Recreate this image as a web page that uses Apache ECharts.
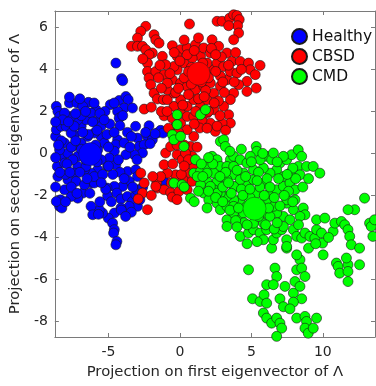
<!DOCTYPE html>
<html>
<head>
<meta charset="utf-8">
<script src="https://cdn.jsdelivr.net/npm/echarts@6/dist/echarts.min.js"></script>
<style>
  html, body { margin: 0; padding: 0; background: #fff; }
  #chart { width: 376px; height: 386px; }
</style>
</head>
<body>
<div id="chart"></div>
<script>
const categories = ["Healthy", "CBSD", "CMD"];
const colors = ["#0000ff", "#ff0000", "#00ff00"];

// Healthy samples [x, y]
const healthy = [
  [-8.65, 2.24], [-8.54, 2.0], [-8.42, 1.76], [-7.73, 2.4], [-7.73, 2.68], [-7.2, 2.4],
  [-6.4, 2.43], [-6.8, 2.24], [-5.87, 2.08], [-5.52, 1.84], [-4.87, 2.32], [-4.25, 2.52],
  [-3.78, 2.71], [-3.62, 2.56], [-3.9, 2.16], [-3.32, 2.16], [-4.36, 2.0], [-5.24, 2.0],
  [-4.25, 1.68], [-4.2, 1.32], [-3.1, 1.29], [-3.67, 1.0], [-2.97, 0.73], [-2.16, 1.32],
  [-2.27, 0.81], [-1.93, 0.65], [-1.58, 0.97], [-1.35, 1.1], [-1.18, 0.97], [-1.74, 0.94],
  [-2.85, 0.33], [-2.5, 0.41], [-2.09, 0.46], [-2.62, 0.02], [-3.2, -0.06], [-3.78, -0.06],
  [-4.36, 0.65], [-4.48, 0.41], [-4.59, 0.1], [-4.94, -0.22], [-5.06, -0.62], [-4.48, -0.54],
  [-3.67, -0.86], [-3.09, -0.78], [-2.97, -1.1], [-3.55, -1.33], [-4.01, -1.57], [-4.59, -1.57],
  [-5.1, -1.65], [-5.06, -2.02], [-4.41, -1.89], [-4.13, -2.17], [-3.67, -2.05], [-3.32, -2.29],
  [-2.97, -2.52], [-3.09, -1.97], [-3.02, -1.73], [-3.55, -2.52], [-4.13, -2.6], [-4.59, -2.84],
  [-5.01, -3.08], [-5.41, -2.84], [-5.64, -2.68], [-6.22, -2.52], [-6.1, -2.92], [-4.71, -3.32],
  [-4.59, -3.63], [-4.64, -3.79], [-4.41, -4.19], [-4.48, -4.35], [-6.22, -1.41], [-6.8, -1.89],
  [-7.15, -2.13], [-7.61, -2.05], [-8.07, -1.73], [-8.35, -2.21], [-8.42, -2.52], [-8.26, -2.6],
  [-8.65, -2.29], [-8.54, -1.1], [-8.58, -0.62], [-8.7, 0.81], [-8.65, 1.13], [-8.3, 1.29],
  [-8.07, 0.49], [-8.19, -0.14], [-7.84, 0.02], [-7.49, 0.33], [-7.38, 0.89], [-6.91, 1.29],
  [-6.57, 1.6], [-6.22, 1.92], [-5.87, 1.52], [-5.52, 1.29], [-5.52, 0.81], [-5.29, 0.49],
  [-5.75, 0.17], [-5.52, -0.3], [-5.75, -0.78], [-6.22, -0.94], [-6.68, -0.78], [-7.15, -0.62],
  [-7.38, -0.94], [-7.84, -1.25], [-7.26, -1.33], [-6.68, -1.49], [-6.57, -0.62], [-7.15, -0.14],
  [-6.91, 0.49], [-6.45, 0.81], [-5.99, 0.97], [-7.15, 1.6], [-7.61, 1.76], [-8.07, 1.92],
  [-7.96, 1.29], [-7.61, 0.97], [-8.42, 0.17], [-8.07, -0.46], [-7.49, -0.3], [-5.99, -1.41],
  [-1.11, -1.33], [-4.48, 4.3], [-4.08, 3.56], [-4.0, 3.46],
  [-6.9, 0.2], [-6.6, -0.3], [-5.9, 0.4], [-5.8, -0.4], [-7.0, -0.9], [-6.4, 0.9], [-7.6, 0.3],
  [-7.9, -0.5], [-6.0, -1.1], [-5.4, -1.0], [-5.1, 0.9], [-4.9, 1.4], [-5.6, 1.9], [-6.9, 1.8],
  [-7.4, 1.3], [-8.3, 0.6], [-8.0, -1.0], [-7.6, -1.6], [-6.3, -1.9], [-5.2, -1.7], [-4.8, -2.3],
  [-5.6, -2.3], [-4.2, -0.9], [-3.9, 0.5], [-3.5, 0.3], [-4.1, -2.7], [-3.4, -2.8], [-2.8, -2.2],
  [-3.8, -3.0], [-5.7, -2.9],
  [-8.2, 1.6], [-7.8, 1.5], [-7.3, 1.9], [-6.6, 2.0], [-6.1, 1.5], [-5.3, 1.6], [-4.6, 1.0],
  [-5.0, 0.3], [-4.3, -0.3], [-4.7, -1.0], [-5.5, -1.4], [-6.5, -1.2], [-7.2, -1.9], [-8.0, -2.3],
  [-7.7, -0.9], [-8.4, -0.9], [-8.5, 0.4], [-7.3, 0.6], [-6.8, 1.0], [-5.8, 1.1], [-5.0, -0.6],
  [-3.9, -1.2], [-3.3, -1.6], [-2.6, -1.6], [-3.0, -0.3], [-3.4, 0.8], [-2.4, 1.0], [-4.0, 1.8],
  [-4.6, 2.4], [-6.0, 2.4], [-7.0, 2.6], [-8.7, 1.5], [-8.7, -0.2], [-8.7, -1.6]
];

// CBSD samples [x, y]
const cbsd = [
  [1.79, 6.79], [0.67, 6.16], [2.6, 6.29], [2.95, 6.29], [3.48, 6.44], [3.76, 6.6], [3.99, 6.56],
  [4.15, 6.37], [4.04, 6.08], [4.11, 5.73], [3.41, 6.08], [4.62, 6.79], [3.76, 5.41],
  [-2.39, 6.05], [-2.74, 5.81], [-2.97, 5.49], [-3.39, 5.1], [-2.97, 5.1], [-2.62, 5.1],
  [-2.39, 4.94], [-1.81, 5.65], [-1.69, 5.41], [-1.46, 5.25], [-1.93, 4.78], [-2.16, 4.7],
  [-2.27, 4.3], [-2.27, 3.9], [-2.16, 3.59], [-2.04, 3.27], [-1.23, 4.62], [-1.69, 3.9],
  [-1.11, 3.75], [-1.81, 2.87], [-1.58, 2.59], [-1.16, 2.56], [-1.11, 1.79], [-2.5, 2.11],
  [-0.53, 5.13], [0.05, 4.94], [0.51, 5.02], [1.09, 5.17], [2.25, 5.41], [2.71, 5.1],
  [3.29, 4.78], [3.64, 4.38], [4.22, 4.38], [4.8, 4.3], [4.92, 3.98], [5.61, 4.19], [5.27, 3.75],
  [4.69, 3.43], [5.34, 3.11], [4.69, 2.95], [4.11, 3.27], [3.76, 2.87], [3.53, 2.56], [3.06, 2.24],
  [3.41, 1.84], [3.53, 1.44], [2.95, 1.44], [2.48, 1.05], [2.13, 1.44], [1.55, 1.6], [1.39, 1.21],
  [0.97, 0.81], [0.74, 0.33], [0.86, -0.14], [0.97, -0.62], [0.51, -0.94], [0.23, -1.25],
  [-0.3, -1.02], [-0.88, -0.94], [-1.11, -0.54], [-1.0, 0.02], [-0.65, 0.33], [-0.42, 0.73],
  [-0.19, -0.06], [0.16, -0.3], [0.39, 0.02], [-0.3, 1.29], [-0.53, 1.68], [0.05, 1.92],
  [-0.42, 2.24], [-0.88, 2.56], [-0.42, 2.87], [0.05, 2.56], [0.51, 2.24], [0.97, 2.56],
  [1.44, 2.24], [1.9, 2.56], [2.37, 2.87], [2.83, 3.21], [3.29, 3.51], [2.83, 3.68], [2.37, 4.0],
  [1.9, 4.3], [1.44, 4.62], [0.86, 4.54], [0.28, 4.3], [-0.19, 3.98], [-0.53, 3.51], [0.05, 3.35],
  [0.51, 3.19], [1.09, 3.03], [1.67, 3.19], [2.13, 3.35], [2.6, 4.3], [3.06, 4.14], [3.53, 3.9],
  [3.99, 3.82], [-0.88, 3.03], [-0.88, 3.35], [-0.42, 4.14], [-1.0, 4.22], [-0.19, 4.62],
  [0.51, 4.7], [1.67, 5.02], [2.13, 4.78], [0.05, 1.44], [0.51, 1.13], [1.44, 1.92], [1.9, 1.92],
  [2.37, 2.08], [0.51, 1.76], [0.97, 1.76],
  [-2.74, -0.94], [-2.5, -1.41], [-2.62, -1.89], [-2.92, -2.17], [-2.27, -2.68], [-1.62, -1.41],
  [-1.58, -1.65], [-1.11, -1.73], [-0.65, -1.86], [-0.53, -2.08], [-0.07, -1.81], [0.51, -1.73],
  [0.86, -1.33], [-1.69, -1.57], [-1.35, -1.1],
  [0.3, 3.6], [0.8, 3.3], [1.8, 3.0], [2.5, 3.9], [1.0, 4.9], [0.0, 4.4], [-0.7, 3.8], [-0.3, 2.9],
  [0.6, 2.8], [1.3, 2.6], [2.0, 2.0], [2.7, 2.5], [3.1, 2.9], [3.4, 4.2], [2.9, 4.6], [2.2, 5.0],
  [-0.1, 1.0], [0.3, 0.4], [0.6, -0.3], [-0.5, -0.5], [0.1, -1.0], [1.2, 0.3], [1.0, 1.4],
  [-1.3, 2.0], [-1.5, 3.6], [-2.6, 4.5],
  [0.8, 4.1], [1.6, 4.3], [2.0, 3.6], [1.5, 3.4], [0.6, 3.9], [-0.1, 3.1], [0.2, 2.3], [-0.9, 2.0],
  [-0.8, 1.2], [-0.2, 0.4], [0.3, -0.6], [-0.6, -1.4], [1.1, 2.0], [1.7, 2.7], [2.4, 2.4],
  [3.0, 3.4], [3.8, 3.4], [4.3, 4.0], [3.9, 4.8], [2.5, 4.7], [1.3, 5.5], [0.3, 5.4], [-0.4, 4.8],
  [-1.4, 4.2], [-1.3, 3.1], [-2.0, 2.2], [2.8, 1.8], [2.6, 1.3], [3.2, 1.1], [1.9, 1.2],
  [-1.9, -1.1], [-2.0, -2.0], [-0.2, -2.2]
];

// CMD samples [x, y]
const cmd = [
  [-0.19, 1.84], [-0.19, 1.37], [-0.53, 0.89], [-0.42, 0.65], [0.05, 0.81], [0.28, 0.33],
  [1.44, 1.84], [1.79, 2.08], [-0.42, -1.41], [0.16, -1.49], [0.74, -2.13], [1.09, -0.3],
  [0.97, -0.94], [1.44, -0.86], [1.9, -0.62], [2.25, -0.14], [2.83, 0.57], [3.06, 0.65],
  [3.18, 0.33], [2.6, -0.3], [2.95, -0.78], [3.53, -0.3], [3.76, -0.14], [4.22, -0.3],
  [4.69, -0.46], [5.34, 0.33], [5.38, 0.1], [6.07, -0.14], [6.42, -0.3], [7.0, -0.46],
  [7.47, -0.3], [7.82, -0.06], [8.28, 0.17], [8.52, -0.14], [8.28, -0.62], [8.4, -1.02],
  [8.86, -0.62], [9.33, -0.62], [9.79, -0.94], [7.7, -0.94], [7.24, -1.1], [6.77, -0.78],
  [6.3, -0.94], [5.84, -0.7], [5.15, -0.78], [4.45, -0.94], [3.76, -1.02], [3.29, -1.25],
  [2.6, -1.33], [1.9, -1.33], [1.44, -1.49], [1.67, -1.89], [2.02, -2.21], [1.9, -2.6],
  [2.6, -2.37], [2.83, -2.68], [3.29, -3.16], [3.29, -3.48], [3.76, -2.84], [4.22, -3.16],
  [4.22, -3.95], [4.8, -3.79], [5.15, -3.63], [5.61, -3.79], [5.84, -4.11], [6.07, -3.63],
  [6.42, -4.51], [6.54, -4.11], [6.77, -3.79], [7.12, -3.63], [7.47, -4.11], [7.47, -4.51],
  [7.94, -3.63], [8.17, -3.95], [8.52, -4.03], [8.75, -3.79], [9.1, -3.95], [9.44, -4.03],
  [9.56, -3.63], [9.91, -3.79], [9.98, -4.27], [10.02, -4.83], [9.56, -3.16], [10.14, -3.08],
  [10.72, -3.71], [10.84, -3.32], [11.3, -3.24], [11.53, -3.4], [11.76, -3.63], [11.88, -3.95],
  [11.99, -4.35], [12.57, -4.51], [12.23, -2.68], [11.76, -2.68], [12.92, -2.13], [13.27, -3.32],
  [13.39, -3.48], [13.62, -3.16], [13.5, -3.95], [10.95, -5.22], [11.07, -5.38], [11.18, -5.7],
  [11.76, -5.3], [11.76, -5.62], [11.76, -6.1], [12.57, -5.3], [11.65, -4.98],
  [7.94, -2.68], [7.47, -2.37], [7.24, -3.0], [6.77, -2.84], [6.54, -2.52], [5.84, -2.84],
  [6.07, -2.21], [6.3, -1.89], [6.77, -1.73], [7.24, -1.57], [7.7, -1.41], [8.05, -1.73],
  [8.05, -2.21], [8.63, -2.6], [8.75, -2.92], [8.4, -3.0], [7.7, -3.16], [7.24, -3.48],
  [7.47, -2.21], [5.38, -1.89], [4.69, -1.89], [4.22, -2.21], [3.76, -2.21], [3.29, -2.05],
  [2.83, -1.89], [2.37, -1.73], [3.99, -1.57], [4.69, -1.41], [5.15, -1.25], [5.84, -1.41],
  [4.22, -1.25], [3.76, -1.57], [3.29, -2.52], [3.76, -2.52], [4.45, -2.84], [5.15, -3.32],
  [5.84, -3.32], [6.3, -3.0], [4.69, -2.52], [5.61, -2.44], [2.6, -1.89], [2.13, -1.57],
  [2.83, -0.62], [3.29, -0.62], [3.76, -0.62], [2.37, -0.94], [1.9, -0.94], [1.21, -1.1],
  [4.92, -0.14], [5.61, -0.3], [6.54, 0.02], [7.24, -0.14],
  [4.8, -5.54], [5.08, -6.92], [5.61, -7.05], [6.07, -6.25], [6.65, -5.46], [6.77, -5.86],
  [6.54, -6.25], [5.89, -6.73], [6.07, -7.13], [5.84, -7.6], [6.07, -7.84], [6.42, -8.08],
  [6.77, -7.84], [7.0, -8.08], [7.12, -8.32], [6.77, -8.71], [7.0, -6.92], [7.35, -6.33],
  [7.24, -7.3], [7.94, -6.65], [8.05, -6.1], [8.17, -5.54], [8.4, -5.06], [8.52, -5.46],
  [8.75, -5.86], [8.4, -6.33], [8.52, -6.92], [7.94, -7.08], [7.7, -7.4], [8.17, -7.84],
  [8.75, -7.76], [8.86, -8.0], [8.75, -8.32], [8.98, -8.56], [9.33, -8.32], [9.56, -7.84],
  [8.17, -4.83], [7.47, -4.43], [9.0, -4.51],
  [3.0, -1.6], [3.6, -1.9], [4.3, -1.7], [4.9, -2.1], [5.6, -1.6], [6.1, -1.2], [6.6, -2.1],
  [7.0, -2.5], [7.6, -1.8], [4.0, -0.8], [4.6, -1.1], [5.5, -0.9], [3.2, -0.9], [2.3, -0.5],
  [1.6, -1.1], [6.0, -3.4], [6.6, -3.6], [4.5, -3.3], [3.9, -3.2], [5.0, -0.4], [6.8, -0.4],
  [7.9, -0.7], [8.1, -1.2], [7.3, -2.0],
  [2.0, -1.8], [2.5, -2.1], [3.0, -2.3], [3.5, -2.7], [4.1, -2.6], [4.0, -3.5], [4.7, -3.4],
  [5.5, -3.0], [6.2, -2.6], [6.3, -1.6], [5.9, -2.0], [4.4, -2.0], [3.4, -1.4], [2.8, -1.1],
  [2.0, -0.2], [1.5, -0.5], [1.3, -1.8], [4.9, -1.7], [5.4, -1.3], [6.9, -1.2], [7.5, -1.0],
  [8.6, -1.6], [9.0, -1.2], [7.9, -2.3], [8.3, -3.4], [6.8, -3.3], [5.4, -4.2], [4.7, -4.3],
  [9.5, -4.3], [10.4, -4.0], [3.5, 0.1], [4.3, 0.2], [5.8, 0.0], [1.0, -2.3], [0.3, -1.6]
];

// class centroids [x, y], same order as categories
const centroids = [[-6.28, -0.03], [1.3, 3.8], [5.22, -2.63]];

const xMin = -8.75, xMax = 13.65;
const yMin = -8.74, yMax = 6.78;

const font = "DejaVu Sans";
const textColor = "#262626";
const frameColor = "#7a7a7a";

function frameAxis(extra) {
  return Object.assign({
    type: "value",
    axisLine: { show: true, onZero: false, lineStyle: { color: frameColor, width: 1 } },
    axisTick: { show: true, inside: true, length: 4, lineStyle: { color: frameColor } },
    splitLine: { show: false },
  }, extra);
}

const groups = [healthy, cbsd, cmd];
const series = [];
groups.forEach((pts, i) => {
  series.push({
    name: categories[i],
    type: "scatter",
    data: pts,
    symbolSize: 10,
    itemStyle: { color: colors[i], borderColor: "#1a1a1a", borderWidth: 0.6, opacity: 1 },
    emphasis: { disabled: true },
    z: 2 + i,
  });
});
groups.forEach((pts, i) => {
  series.push({
    name: categories[i],
    type: "scatter",
    data: [centroids[i]],
    symbolSize: 23,
    itemStyle: { color: colors[i], borderColor: "#1a1a1a", borderWidth: 0.4, opacity: 1 },
    emphasis: { disabled: true },
    z: 10,
  });
});

const chart = echarts.init(document.getElementById("chart"));
chart.setOption({
  animation: false,
  backgroundColor: "#fff",
  textStyle: { fontFamily: font },
  grid: { left: 53, right: 1, top: 11, bottom: 49 },
  legend: {
    data: categories,
    orient: "vertical",
    left: 286,
    top: 23,
    icon: "circle",
    itemWidth: 15,
    itemHeight: 15,
    itemGap: 3,
    textStyle: { fontFamily: font, fontSize: 15.5, color: "#111" },
  },
  xAxis: [
    frameAxis({
      position: "bottom",
      min: xMin, max: xMax, minInterval: 5, maxInterval: 5,
      name: "Projection on first eigenvector of Λ",
      nameLocation: "middle",
      nameGap: 28,
      nameTextStyle: { fontFamily: font, fontSize: 14.8, color: textColor },
      axisLabel: { fontFamily: font, fontSize: 14, color: textColor, margin: 8, showMinLabel: false, showMaxLabel: false },
    }),
    frameAxis({
      position: "top",
      min: xMin, max: xMax, minInterval: 5, maxInterval: 5,
      axisLabel: { show: false },
    }),
  ],
  yAxis: [
    frameAxis({
      position: "left",
      min: yMin, max: yMax, minInterval: 2, maxInterval: 2,
      name: "Projection on second eigenvector of Λ",
      nameLocation: "middle",
      nameGap: 25,
      nameTextStyle: { fontFamily: font, fontSize: 14.8, color: textColor },
      axisLabel: { fontFamily: font, fontSize: 14, color: textColor, margin: 7, showMinLabel: false, showMaxLabel: false },
    }),
    frameAxis({
      position: "right",
      min: yMin, max: yMax, minInterval: 2, maxInterval: 2,
      axisLabel: { show: false },
    }),
  ],
  series: series,
});
</script>
</body>
</html>
